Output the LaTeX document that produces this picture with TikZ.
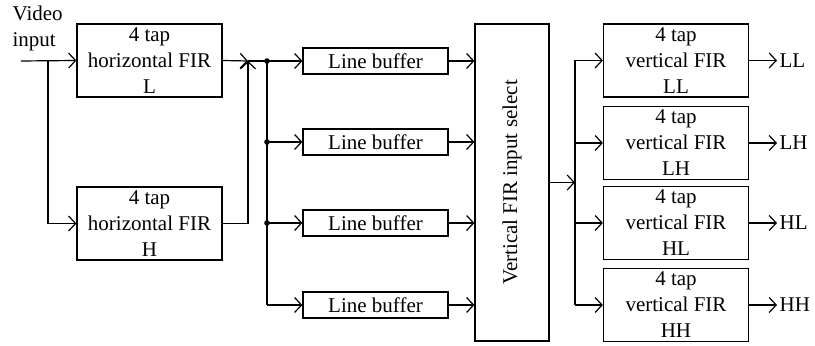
\documentclass[tikz,border=0pt]{standalone}
\usepackage{fontspec}
\setmainfont{Liberation Serif}
\usetikzlibrary{arrows.meta}

\begin{document}
\begin{tikzpicture}[x=0.5pt,y=-0.5pt,line width=0.6pt,
	>={Straight Barb[length=3.5pt,width=7.5pt]},
	font=\fontsize{10.5}{13}\selectfont,
	firbox/.style={draw,minimum width=72.5pt,minimum height=36.5pt,align=center,inner sep=0pt},
	bufbox/.style={draw,minimum width=72.5pt,minimum height=13pt,inner sep=0pt},
	outlabel/.style={anchor=west,inner sep=1pt}]
	\useasboundingbox (0,0) rectangle (815,346);
	
	%input
	\node[anchor=south west,align=left,inner sep=0pt] (vlabel) at (12,52) {Video\\input};
	\coordinate (vin) at (21,61);
	\coordinate (split) at (48,61);
	
	%horizontal filters
	\node[firbox] (hfirL) at (149.5,60.5) {4 tap\\horizontal FIR\\L};
	\node[firbox] (hfirH) at (149.5,223.5) {4 tap\\horizontal FIR\\H};
	\draw[->] (vin) -- (hfirL.west);
	\draw[->] (split) |- (hfirH.west);
	\coordinate (join) at (248,61);
	\draw[->] (hfirL.east) -- (join);
	\draw[->] (hfirH.east) -| (join);
	
	%line buffers
	\node[bufbox] (buf1) at (375.5,61) {Line buffer};
	\node[bufbox] (buf2) at (375.5,142) {Line buffer};
	\node[bufbox] (buf3) at (375.5,223) {Line buffer};
	\node[bufbox] (buf4) at (375.5,305) {Line buffer};
	\coordinate (bus) at (267,61);
	\draw[->] (join) -- (buf1.west);
	\draw (bus) -- (bus |- buf4.west);
	\foreach \i in {2,3,4}
		\draw[->] (bus |- buf\i.west) -- (buf\i.west);
	
	%dots
	\fill (bus) circle (1.4pt);
	\fill (bus |- buf2.west) circle (1.4pt);
	\fill (bus |- buf3.west) circle (1.4pt);
	
	%input select
	\node[draw,minimum width=37pt,minimum height=158.5pt,inner sep=0pt] (vsel) at (512,182.5) {};
	\node[rotate=90] (vseltext) at (vsel.center) {Vertical FIR input select};
	\foreach \i in {1,2,3,4}
		\draw[->] (buf\i.east) -- (vsel.west |- buf\i.east);
	
	%vertical filters
	\node[firbox] (vfirLL) at (676,60.5) {4 tap\\vertical FIR\\LL};
	\node[firbox] (vfirLH) at (676,143) {4 tap\\vertical FIR\\LH};
	\node[firbox] (vfirHL) at (676,223) {4 tap\\vertical FIR\\HL};
	\node[firbox] (vfirHH) at (676,305) {4 tap\\vertical FIR\\HH};
	\coordinate (obus) at (575,182.5);
	\draw[->] (vsel.east) -- (obus);
	\draw (obus |- vfirLL.west) -- (obus |- vfirHH.west);
	\foreach \b in {LL,LH,HL,HH}
		\draw[->] (obus |- vfir\b.west) -- (vfir\b.west);
	
	%outputs
	\node[outlabel] (outLL) at (777,60.5) {LL};
	\node[outlabel] (outLH) at (777,143) {LH};
	\node[outlabel] (outHL) at (777,223) {HL};
	\node[outlabel] (outHH) at (777,305) {HH};
	\draw[->] (vfirLL.east) -- (outLL.west);
	\draw[->] (vfirLH.east) -- (outLH.west);
	\draw[->] (vfirHL.east) -- (outHL.west);
	\draw[->] (vfirHH.east) -- (outHH.west);
\end{tikzpicture}
\end{document}
